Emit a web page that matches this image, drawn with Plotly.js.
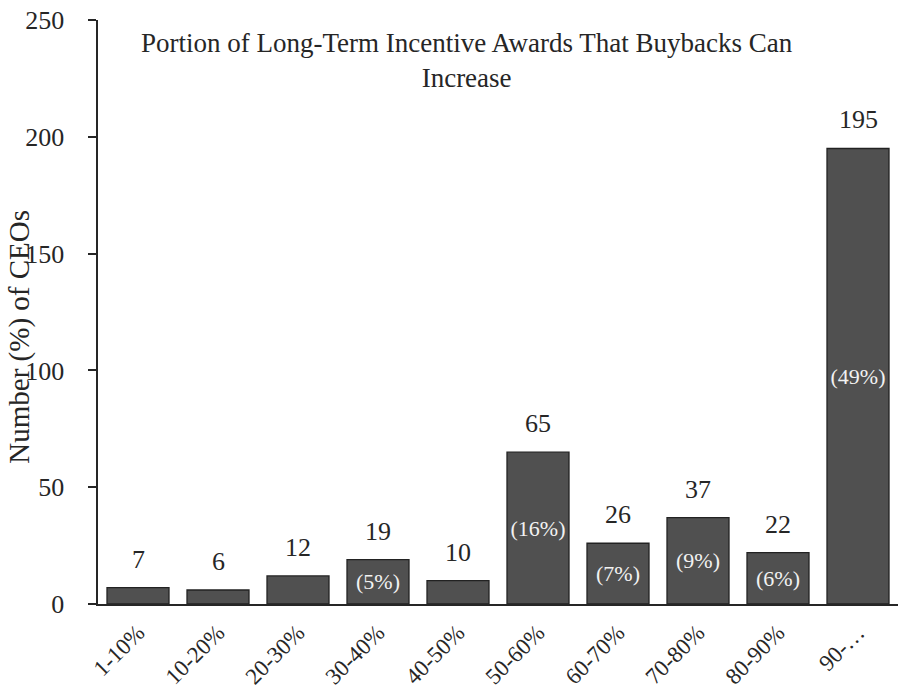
<!DOCTYPE html>
<html>
<head>
<meta charset="utf-8">
<script src="https://cdn.plot.ly/plotly-3.0.1.min.js"></script>
<style>html,body{margin:0;padding:0;background:#fff}#chart{width:902px;height:693px}</style>
</head>
<body>
<div id="chart"></div>
<script>
var categories = ["1-10%","10-20%","20-30%","30-40%","40-50%","50-60%","60-70%","70-80%","80-90%","90-…"];
var counts = [7, 6, 12, 19, 10, 65, 26, 37, 22, 195];
var percentLabels = ["", "", "", "(5%)", "", "(16%)", "(7%)", "(9%)", "(6%)", "(49%)"];
var titleText = "Portion of Long-Term Incentive Awards That Buybacks Can<br>Increase";
var yTitle = "Number (%) of CEOs";

var FONT = "Liberation Serif, Times New Roman, serif";
var ink = "#262626";

var trace = {
  type: "bar",
  x: categories,
  y: counts,
  text: percentLabels,
  textposition: "inside",
  insidetextanchor: "middle",
  constraintext: "none",
  textangle: 0,
  insidetextfont: {family: FONT, size: 22, color: "#f2f2f2"},
  marker: {color: "#505050", line: {color: "#222222", width: 1.3}},
  hoverinfo: "none"
};

var annotations = categories.map(function (c, i) {
  return {
    x: c, y: counts[i], xref: "x", yref: "y",
    text: String(counts[i]), showarrow: false,
    yanchor: "bottom", yshift: 12,
    font: {family: FONT, size: 26, color: ink}
  };
});
annotations.push({
  xref: "paper", yref: "paper", x: -0.098, y: 0.457,
  text: yTitle, textangle: -90, showarrow: false,
  xanchor: "center", yanchor: "middle",
  font: {family: FONT, size: 29, color: ink}
});
annotations.push({
  xref: "paper", yref: "paper", x: 0.461, y: 0.99,
  text: titleText, showarrow: false,
  xanchor: "center", yanchor: "top",
  font: {family: FONT, size: 27, color: ink}
});

var layout = {
  width: 902, height: 693,
  margin: {l: 98, r: 4, t: 20, b: 89, pad: 0},
  paper_bgcolor: "#fff", plot_bgcolor: "#fff",
  bargap: 0.225,
  showlegend: false,
  font: {family: FONT, color: ink},
  xaxis: {
    type: "category",
    showline: true, linecolor: ink, linewidth: 2,
    ticks: "", tickangle: -45,
    tickfont: {family: FONT, size: 23, color: ink},
    ticklabelstandoff: 4,
    showgrid: false, zeroline: false, fixedrange: true
  },
  yaxis: {
    range: [0, 250], dtick: 50, tick0: 0,
    showline: true, linecolor: ink, linewidth: 2,
    ticks: "outside", ticklen: 8, tickwidth: 2, tickcolor: ink,
    tickfont: {family: FONT, size: 26, color: ink},
    ticksuffix: "\u00A0",
    ticklabelstandoff: 12,
    showgrid: false, zeroline: false, fixedrange: true
  },
  annotations: annotations
};

Plotly.newPlot("chart", [trace], layout, {staticPlot: true, displayModeBar: false});
</script>
</body>
</html>
